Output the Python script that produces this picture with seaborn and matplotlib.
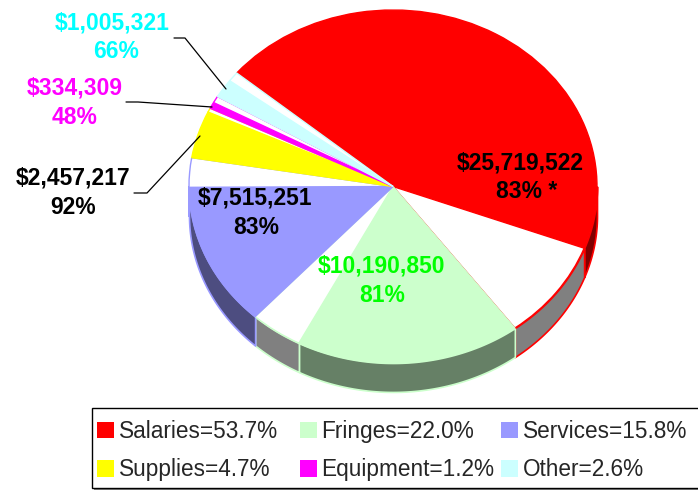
import numpy as np
import matplotlib
matplotlib.use("Agg")
import matplotlib.pyplot as plt
from matplotlib.colors import to_rgb
from matplotlib.patches import Patch, Rectangle
import seaborn as sns

categories = ["Salaries", "Fringes", "Services", "Supplies", "Equipment", "Other"]
shares = [53.7, 22.0, 15.8, 4.7, 1.2, 2.6]
spent_pct = [83, 81, 83, 92, 48, 66]
dollars = ["$25,719,522", "$10,190,850", "$7,515,251", "$2,457,217", "$334,309", "$1,005,321"]
pct_labels = ["83% *", "81%", "83%", "92%", "48%", "66%"]
colors = ["#FF0000", "#CCFFCC", "#9999FF", "#FFFF00", "#FF00FF", "#CCFFFF"]
label_colors = ["black", "#00FF00", "black", "black", "#FF00FF", "#00FFFF"]

# label centres in pixels (x amount, y amount, x percent, y percent)
label_pos = [(520, 163, 527, 191), (382, 266, 382, 295), (255, 198, 256, 227),
             (73, 178, 73, 208), (75, 88, 75, 117), (112, 23, 116, 52)]
leaders = {3: [(134, 193), (147, 193), (200, 136)],
           4: [(126, 102), (138, 102), (212, 107)],
           5: [(174, 38), (185, 38), (226, 89)]}

W, H = 698, 493
START = 140
DEPTH = 0.164

sns.set_style("white")
plt.rcParams["font.family"] = ["Liberation Sans", "DejaVu Sans"]

fig = plt.figure(figsize=(W / 100, H / 100), dpi=100)
ax = fig.add_axes([189 / W, (H - 363) / H, 408 / W, 353 / H])

filled = np.array(shares) * np.array(spent_pct) / 100
rest = np.array(shares) - filled
sizes = np.column_stack([filled, rest]).ravel()
edges = START - 360 * np.concatenate([[0], np.cumsum(sizes)]) / sizes.sum()

# side wall of the tilted pie, only the front half shows
for i in range(len(sizes)):
    hi, lo = min(edges[i], 0), max(edges[i + 1], -180)
    if hi <= lo:
        continue
    cat = i // 2
    base = colors[cat] if i % 2 == 0 else "#FFFFFF"
    t = np.radians(np.linspace(lo, hi, 80))
    ax.fill_between(np.cos(t), np.sin(t), np.sin(t) - DEPTH, color=np.array(to_rgb(base)) * 0.5,
                    edgecolor=colors[cat], linewidth=1.2, clip_on=False, zorder=1)

wedges, _ = ax.pie(sizes, startangle=START, counterclock=False, radius=1,
                   wedgeprops={"linewidth": 1, "clip_on": False, "zorder": 2})
for i, w in enumerate(wedges):
    cat = i // 2
    w.set_facecolor(colors[cat] if i % 2 == 0 else "white")
    w.set_edgecolor(colors[cat])
ax.set_aspect("auto")
ax.set_xlim(-1, 1)
ax.set_ylim(-1, 1)

# overlay in pixel coordinates for labels, leader lines and legend box
top = fig.add_axes([0, 0, 1, 1], zorder=1)
top.set_xlim(0, W)
top.set_ylim(H, 0)
top.axis("off")
top.patch.set_alpha(0)

for i in range(len(categories)):
    x1, y1, x2, y2 = label_pos[i]
    for txt, x, y in [(dollars[i], x1, y1), (pct_labels[i], x2, y2)]:
        top.text(x, y, txt, color=label_colors[i], fontsize=16.5, fontweight="bold",
                 ha="center", va="center")
for pts in leaders.values():
    top.plot(*zip(*pts), color="black", lw=0.9)

top.add_patch(Rectangle((94, 410), 610, 80, fc="#808080", ec="none", clip_on=True))
top.add_patch(Rectangle((92, 408), 610, 80, fc="white", ec="black", lw=1, clip_on=True))

col_x = [97, 300, 501]
handles = [Patch(fc=c, ec="none") for c in colors]
labels = [f"{c}={s}%" for c, s in zip(categories, shares)]
for k, x in enumerate(col_x):
    fig.legend([handles[k], handles[k + 3]], [labels[k], labels[k + 3]],
               loc="upper left", bbox_to_anchor=(x / W, 1 - 420 / H), frameon=False,
               fontsize=16.3, borderaxespad=0, borderpad=0, labelspacing=0.68,
               handlelength=0.75, handleheight=0.75, handletextpad=0.2)

fig.savefig("out.png", dpi=100)
